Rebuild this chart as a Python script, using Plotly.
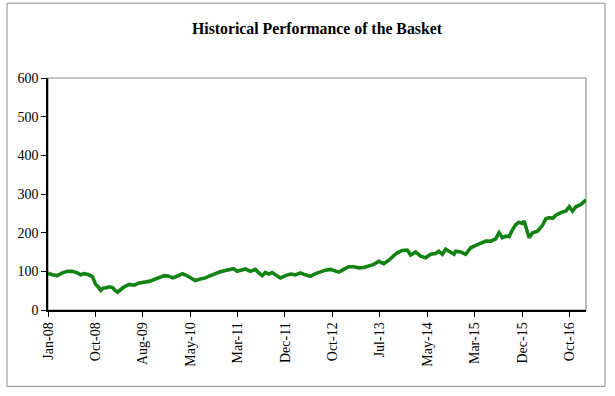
import plotly.graph_objects as go

title_text = "Historical Performance of the Basket"

dates = [
    "2008-01-02", "2008-01-28", "2008-02-28", "2008-03-30", "2008-04-30", "2008-05-30",
    "2008-06-30", "2008-07-21", "2008-08-10", "2008-09-10", "2008-10-01", "2008-10-11",
    "2008-10-21", "2008-11-05", "2008-11-21", "2008-12-07", "2008-12-22", "2009-01-11",
    "2009-02-01", "2009-02-15", "2009-03-03", "2009-03-24", "2009-04-14", "2009-05-14",
    "2009-06-14", "2009-07-15", "2009-08-15", "2009-09-14", "2009-10-15", "2009-11-15",
    "2009-12-16", "2010-01-09", "2010-02-05", "2010-03-07", "2010-04-07", "2010-05-08",
    "2010-05-25", "2010-06-24", "2010-07-25", "2010-08-25", "2010-09-25", "2010-10-25",
    "2010-11-25", "2010-12-26", "2011-01-26", "2011-02-15", "2011-03-08", "2011-03-28",
    "2011-04-28", "2011-05-29", "2011-06-28", "2011-07-19", "2011-08-09", "2011-08-29",
    "2011-09-18", "2011-10-09", "2011-10-30", "2011-11-29", "2011-12-30", "2012-01-30",
    "2012-02-29", "2012-03-30", "2012-04-30", "2012-05-31", "2012-07-01", "2012-07-31",
    "2012-08-31", "2012-10-01", "2012-11-01", "2012-11-21", "2012-12-22", "2013-01-21",
    "2013-02-21", "2013-03-24", "2013-04-24", "2013-05-24", "2013-06-24", "2013-07-25",
    "2013-08-25", "2013-09-25", "2013-10-25", "2013-11-15", "2013-12-16", "2014-01-16",
    "2014-02-05", "2014-03-08", "2014-04-08", "2014-05-08", "2014-06-08", "2014-07-09",
    "2014-07-29", "2014-08-19", "2014-09-08", "2014-10-09", "2014-10-30", "2014-11-09",
    "2014-12-10", "2015-01-09", "2015-02-09", "2015-03-12", "2015-04-12", "2015-05-13",
    "2015-06-12", "2015-07-13", "2015-08-02", "2015-08-23", "2015-09-13", "2015-10-03",
    "2015-10-24", "2015-11-13", "2015-12-03", "2015-12-24", "2016-01-03", "2016-01-18",
    "2016-02-03", "2016-02-24", "2016-03-25", "2016-04-25", "2016-05-16", "2016-06-05",
    "2016-06-26", "2016-07-16", "2016-08-16", "2016-09-16", "2016-10-06", "2016-10-27",
    "2016-11-16", "2016-12-17", "2017-01-06", "2017-01-17",
]

basket_values = [
    95, 91, 89, 96, 100, 100,
    96, 91, 94, 91, 86, 75,
    66, 60, 51, 57, 57, 60,
    58, 51, 46, 53, 60, 66,
    64, 70, 72, 74, 79, 83,
    89, 88, 83, 88, 94, 88,
    83, 76, 80, 83, 89, 94.5,
    99, 102, 105, 107, 100, 103,
    106, 100, 105, 96, 89, 97,
    93, 97, 91, 83, 89, 93,
    91, 96, 91, 87, 94, 99,
    103, 105, 102, 98, 105, 112,
    112, 109, 110, 115, 118, 126,
    120, 129, 139, 148, 154, 155,
    142, 150, 139, 135, 144, 146,
    152, 144, 157, 150, 144, 152,
    150, 144, 161, 167, 172, 178,
    178, 184, 200, 187, 191, 190,
    208, 221, 227, 224, 230, 208,
    187, 200, 204, 219, 236, 239,
    237, 245, 252, 256, 267, 256,
    267, 273, 282, 285,
]

tick_dates = [
    "2008-01-02", "2008-10-19", "2009-08-06", "2010-05-24", "2011-03-11", "2011-12-27",
    "2012-10-13", "2013-07-31", "2014-05-18", "2015-03-05", "2015-12-22", "2016-10-08",
]
tick_labels = [
    "Jan-08", "Oct-08", "Aug-09", "May-10", "Mar-11", "Dec-11",
    "Oct-12", "Jul-13", "May-14", "Mar-15", "Dec-15", "Oct-16",
]
y_ticks = [0, 100, 200, 300, 400, 500, 600]

serif = "Liberation Serif, Times New Roman, serif"

fig = go.Figure()
fig.add_trace(go.Scatter(
    x=dates, y=basket_values, mode="lines",
    line=dict(color="#128212", width=3.6),
    showlegend=False, hoverinfo="x+y",
))

fig.update_layout(
    width=615, height=396,
    margin=dict(l=48, r=29, t=78, b=86),
    paper_bgcolor="white", plot_bgcolor="white",
    title=dict(text="<b>" + title_text + "</b>", x=0.5, xref="paper",
               y=1 - 28 / 396, yref="container", yanchor="middle", xanchor="center",
               font=dict(family=serif, size=15.8, color="black")),
    font=dict(family=serif, size=14, color="black"),
    xaxis=dict(
        type="date", range=["2008-01-02", "2017-01-17"],
        tickmode="array", tickvals=tick_dates, ticktext=tick_labels,
        tickangle=-90, ticks="outside", ticklen=5, tickcolor="black",
        showline=True, linecolor="black", linewidth=1.5,
        showgrid=False, zeroline=False,
        tickfont=dict(family=serif, size=14, color="black"),
    ),
    yaxis=dict(
        range=[0, 600], tickvals=y_ticks,
        ticks="outside", ticklen=5, tickcolor="black",
        showline=True, linecolor="black", linewidth=1.5,
        showgrid=False, zeroline=False,
        tickfont=dict(family=serif, size=14, color="black"),
    ),
    shapes=[
        dict(type="rect", xref="paper", yref="paper", x0=0, x1=1, y0=0, y1=1,
             line=dict(color="#8c8c8c", width=1.2), layer="below"),
        dict(type="rect", xref="paper", yref="paper",
             x0=(7 - 48) / 538, x1=(605 - 48) / 538,
             y0=(310.5 - 387) / 232.5, y1=(310.5 - 3) / 232.5,
             line=dict(color="#8c8c8c", width=1), layer="below"),
    ],
)

fig.write_html(
    "out.html",
    config={"displayModeBar": False},
    post_script="document.body.style.margin='0';document.body.style.overflow='hidden';",
)
